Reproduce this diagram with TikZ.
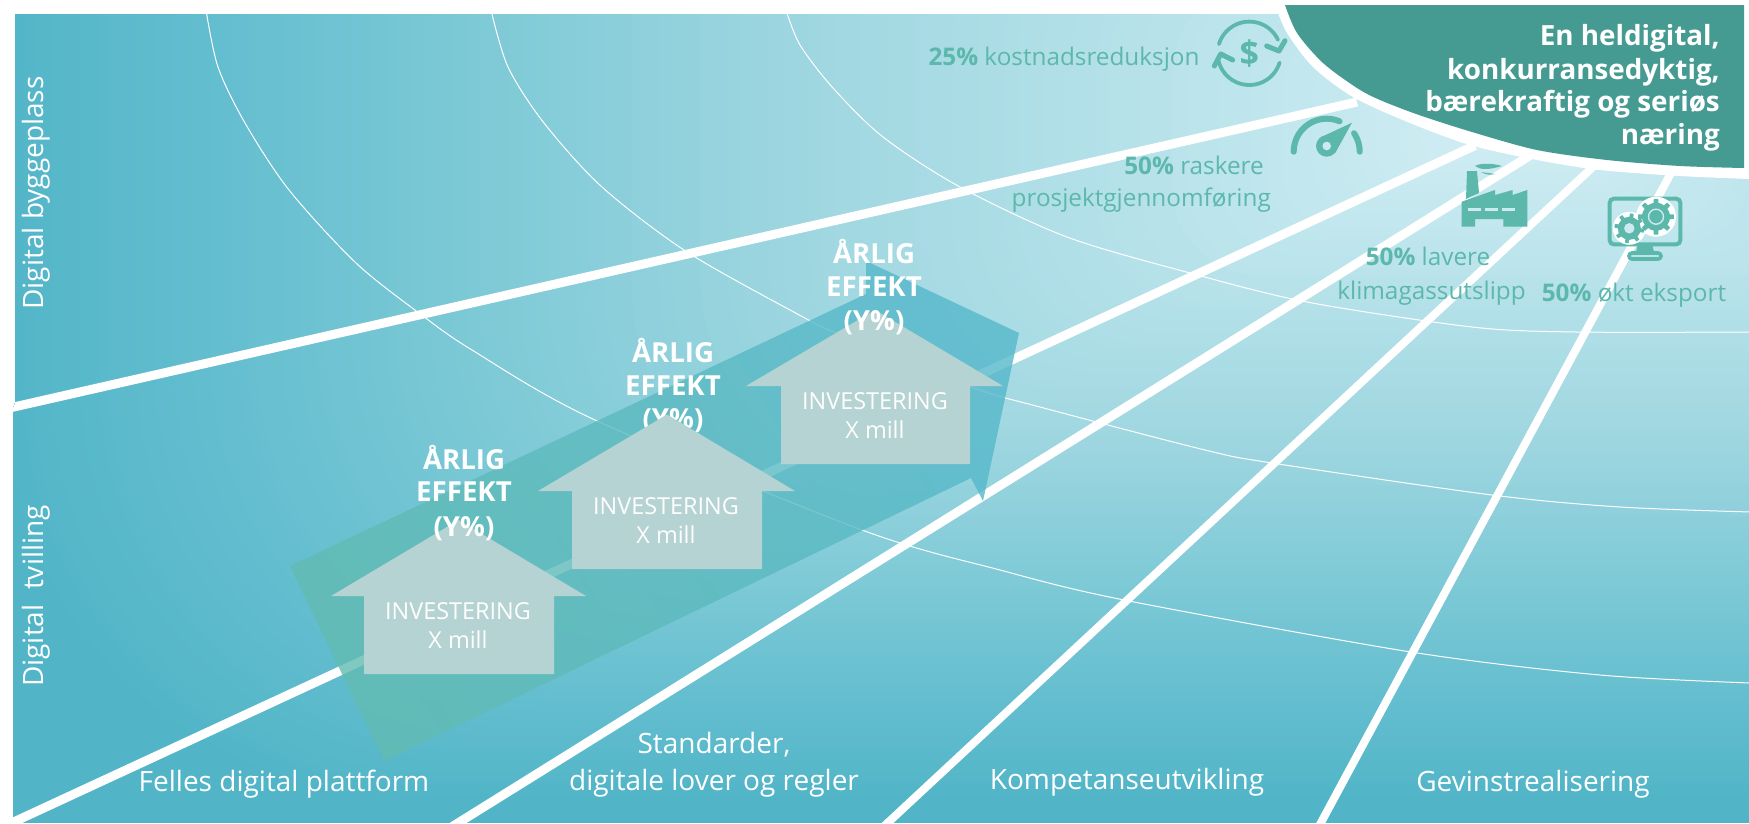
\documentclass[tikz,border=0pt]{standalone}
\usepackage{fontspec}
\setmainfont{Open Sans}
\definecolor{bgA}{HTML}{D2EEF4}
\definecolor{bgB}{HTML}{B5E1E9}
\definecolor{bgC}{HTML}{9DD6E0}
\definecolor{bgD}{HTML}{7AC8D5}
\definecolor{bgE}{HTML}{64BECF}
\definecolor{bgF}{HTML}{51B5C7}
\definecolor{boxc}{HTML}{459B91}
\definecolor{iconc}{HTML}{5BB8AB}
\definecolor{kpi}{HTML}{5CB8AD}
\definecolor{housec}{HTML}{B5D3D2}
\definecolor{polyA}{HTML}{62BBB2}
\definecolor{polyB}{HTML}{55B8CA}
\definecolor{holec}{HTML}{CDEAF0}
\tikzset{
 thick line/.style={white,line width=9pt},
 thin arc/.style={white,line width=1pt},
 house/.style={fill=housec},
 invest/.style={text=white,font=\fontsize{23.4}{25}\selectfont,inner sep=0pt},
 effect/.style={text=white,font=\bfseries\fontsize{27.6}{30}\selectfont,inner sep=0pt},
 axislabel/.style={text=white,font=\fontsize{28}{29}\selectfont,inner sep=0pt},
 kpitext/.style={text=kpi,font=\fontsize{24.3}{26}\selectfont,inner sep=0pt},
 titletext/.style={text=white,font=\bfseries\fontsize{27.8}{32}\selectfont,inner sep=0pt,anchor=east},
}
% nested rounded rectangles: band of the background from t=#2 (colour #4) in to t=#1 (colour #3)
\newcommand{\bgband}[4]{%
 \foreach \kk in {0,...,24}{
  \pgfmathsetmacro{\bgt}{#2-(#2-#1)*\kk/25}
  \pgfmathsetmacro{\bgp}{100*\kk/25}
  \pgfmathsetmacro{\bgw}{1560*\bgt}
  \pgfmathsetmacro{\bgh}{693*\bgt}
  \pgfmathsetmacro{\bgr}{0.6*\bgh}
  \fill[#3!\bgp!#4,rounded corners=\bgr pt] ({1500-\bgw},{130-\bgh}) rectangle ({1500+\bgw},{130+\bgh});
 }
}
\newcommand{\gearshape}[6]{% cx cy outer body teeth rot
 \foreach \ga in {1,...,#5}{
  \fill[iconc] ({#1+(#4-1)*cos(#6+\ga*360/#5-11)},{#2+(#4-1)*sin(#6+\ga*360/#5-11)})
    -- ({#1+#3*cos(#6+\ga*360/#5-7)},{#2+#3*sin(#6+\ga*360/#5-7)})
    -- ({#1+#3*cos(#6+\ga*360/#5+7)},{#2+#3*sin(#6+\ga*360/#5+7)})
    -- ({#1+(#4-1)*cos(#6+\ga*360/#5+11)},{#2+(#4-1)*sin(#6+\ga*360/#5+11)}) -- cycle;
 }
 \fill[iconc] (#1,#2) circle (#4);
}
\begin{document}
\begin{tikzpicture}[x=1pt,y=-1pt]
\useasboundingbox (0,0) rectangle (1749,823);
\fill[white] (0,0) rectangle (1749,823);
% background
\begin{scope}
\clip (15,14) -- (15,403) -- (13,408) -- (13,823) -- (1749,823) -- (1749,14) -- cycle;
\fill[bgF] (0,0) rectangle (1749,823);
\bgband{0.82}{0.97}{bgE}{bgF}
\bgband{0.68}{0.82}{bgD}{bgE}
\bgband{0.46}{0.68}{bgC}{bgD}
\bgband{0.25}{0.46}{bgB}{bgC}
\bgband{0.0}{0.25}{bgA}{bgB}
% thin arcs
\draw[thin arc] plot[smooth] coordinates {(206,10) (218,67) (245,123) (289,190) (356,263) (419,313) (472,350) (595,420) (862,530) (1000,570) (1124,600) (1411,652) (1600,675) (1751,683)};
\draw[thin arc] plot[smooth] coordinates {(491,10) (508,67) (544,123) (602,187) (687,252) (803,317) (834,332) (971,387) (1040,407) (1205,450) (1272,463) (1492,495) (1620,507) (1751,512)};
\draw[thin arc] plot[smooth] coordinates {(786,10) (800,45) (833,88) (883,137) (960,187) (1067,237) (1190,273) (1307,302) (1472,327) (1576,332) (1751,332)};
% thick lines
\coordinate (l1a) at (5,409);\coordinate (l1b) at (1357,102);
\coordinate (l2a) at (5,826);\coordinate (l2b) at (1475,145.5);
\coordinate (l3a) at (450,828);\coordinate (l3b) at (1530,155.5);
\coordinate (l4a) at (880,830);\coordinate (l4b) at (1595,165);
\coordinate (l5a) at (1317,830);\coordinate (l5b) at (1671,173);
\draw[thick line] (l1a) -- (l1b);
\draw[thick line] (l2a) -- (l2b);
\draw[thick line] (l3a) -- (l3b);
\draw[thick line,line width=8pt] (l4a) -- (l4b);
\draw[thick line,line width=8pt] (l5a) -- (l5b);
\end{scope}
% factory icon
\fill[iconc] (1461.7,201.7) -- (1495,190) -- (1495,195) -- (1512.7,190) -- (1512.7,195) -- (1527.3,190) -- (1527.3,226.7) -- (1503.3,226.7) -- (1503.3,219) -- (1475,219) -- (1475,226.7) -- (1461.7,226.7) -- cycle;
\fill[iconc] (1467,171) -- (1477,171) -- (1479,193) -- (1466,199) -- cycle;
\fill[iconc] (1475,166) .. controls (1480,163) and (1492,163) .. (1502,166) .. controls (1495,168) and (1490,169) .. (1485,169) .. controls (1481,169) and (1478,168) .. (1475,166) -- cycle;
\fill[iconc] (1481,172) .. controls (1486,173) and (1490,173) .. (1495,174) .. controls (1491,175) and (1486,175) .. (1481,172) -- cycle;
\fill[holec] (1468.3,208) rectangle (1481,211);
\fill[holec] (1485,208) rectangle (1497.7,211);
\fill[holec] (1502.3,208) rectangle (1515,211);
% corner: white band and dark title shape
\fill[white] (1277,0) -- plot[smooth] coordinates {(1277,10) (1287,33) (1313,67) (1353,97) (1410,123) (1470,145) (1537,160) (1600,170) (1680,176) (1749,179)} -- (1749,0) -- cycle;
\fill[boxc] (1285,5) -- plot[smooth] coordinates {(1285,5) (1297,33) (1323,63) (1357,88) (1380,100) (1419,115) (1472,132) (1537,150) (1607,160) (1680,166) (1744,168)} -- (1744,5) -- cycle;
% dollar icon
\draw[iconc,line width=3.8pt,line cap=round] plot[smooth,domain=163:25,samples=24] ({1249.3+31.7*cos(\x)},{53.3-31.7*sin(\x)});
\draw[iconc,line width=3.8pt,line cap=round] plot[smooth,domain=-17:-167,samples=24] ({1249.3+31.7*cos(\x)},{53.3-31.7*sin(\x)});
\draw[iconc,line width=5pt,line cap=round,line join=round] (1266.7,46) -- (1279,51) -- (1285,40.7);
\draw[iconc,line width=5pt,line cap=round,line join=round] (1232.7,60) -- (1220.7,54) -- (1214.3,66);
\node[text=iconc,font=\bfseries\fontsize{34}{34}\selectfont,inner sep=0pt] (dollar) at (1249.3,53.3) {\$};
% gauge icon
\draw[iconc,line width=6pt,line cap=round] plot[smooth,domain=180:67,samples=20] ({1326.7+33*cos(\x)},{151.7-33*sin(\x)});
\draw[iconc,line width=6pt,line cap=round] plot[smooth,domain=34:0,samples=8] ({1326.7+33*cos(\x)},{151.7-33*sin(\x)});
\fill[iconc] (1320.7,137.3) -- (1352,122.7) -- (1335,153.3) -- cycle;
\fill[iconc] (1326.7,146) circle (10.7pt);
\fill[holec] (1326.7,146) circle (4.3pt);
% monitor icon
\draw[iconc,line width=4pt,rounded corners=4pt] (1609.7,198.7) rectangle (1680.3,244.3);
\fill[iconc] (1638,244) -- (1652,244) -- (1654,252) -- (1636,252) -- cycle;
\draw[iconc,line width=3.6pt,rounded corners=3pt] (1629,253) rectangle (1661,259);
\fill[white] (1656,216.7) circle (20pt);
\fill[white] (1629.3,228.3) circle (16.5pt);
\gearshape{1656}{216.7}{18}{14}{8}{0}
\gearshape{1629.3}{228.3}{15}{11.5}{8}{10}
\draw[holec,line width=1.4pt] (1656,216.7) circle (7.5pt);
\fill[holec] (1629.3,228.3) circle (5.2pt);
% big translucent arrow
\shade[top color=polyB,bottom color=polyA,shading angle=-60,fill opacity=.8]
 (290,566) -- (866,294) -- (866,261) -- (1019,333) -- (983,501) -- (971,478) -- (384,761) -- cycle;
% effect text of house 2 lies under its house
\node[effect] (e2a) at (673,350) {ÅRLIG};
\node[effect] (e2b) at (673,386) {EFFEKT};
\node[effect] (e2c) at (673,421) {(Y\%)};
% houses
\fill[house] (458.6,520) -- (586,596) -- (554,596) -- (554,674) -- (364,674) -- (364,596) -- (331,596) -- cycle;
\fill[house] (667,414.5) -- (795,491) -- (762,491) -- (762,569) -- (572,569) -- (572,491) -- (538,491) -- cycle;
\fill[house] (875,310) -- (1003,386) -- (970,386) -- (970,464) -- (781,464) -- (781,386) -- (746,386) -- cycle;
\node[effect] (e1a) at (464,457) {ÅRLIG};
\node[effect] (e1b) at (464,492) {EFFEKT};
\node[effect] (e1c) at (464,528.5) {(Y\%)};
\node[effect] (e3a) at (874,251) {ÅRLIG};
\node[effect] (e3b) at (874,287) {EFFEKT};
\node[effect] (e3c) at (874,323) {(Y\%)};
\node[invest] (i1a) at (458,611) {INVESTERING};
\node[invest] (i1b) at (458,640) {X mill};
\node[invest] (i2a) at (666,506) {INVESTERING};
\node[invest] (i2b) at (666,535) {X mill};
\node[invest] (i3a) at (875,401) {INVESTERING};
\node[invest] (i3b) at (875,430) {X mill};
% axis labels
\node[axislabel] (fp) at (284,784) {Felles digital plattform};
\node[axislabel] (st) at (714,745) {Standarder,};
\node[axislabel] (dl) at (714,783) {digitale lover og regler};
\node[axislabel] (ku) at (1127,782) {Kompetanseutvikling};
\node[axislabel] (gr) at (1533,784) {Gevinstrealisering};
\node[axislabel,rotate=90] (db) at (36,193) {Digital byggeplass};
\node[axislabel,rotate=90] (dt) at (36,596) {Digital\ \ tvilling};
% kpi texts
\node[kpitext] (k1) at (1064,59) {\textbf{25\%} kostnadsreduksjon};
\node[kpitext,anchor=east] (k2a) at (1264,165) {\textbf{50\%} raskere};
\node[kpitext,anchor=east] (k2b) at (1271,200) {prosjektgjennomføring};
\node[kpitext] (k3a) at (1428,256) {\textbf{50\%} lavere};
\node[kpitext] (k3b) at (1431.5,293) {klimagassutslipp};
\node[kpitext] (k4) at (1634,295) {\textbf{50\%} økt eksport};
% title
\node[titletext] (t1) at (1720,38) {En heldigital,};
\node[titletext] (t2) at (1720,72) {konkurransedyktig,};
\node[titletext] (t3) at (1720,104) {bærekraftig og seriøs};
\node[titletext] (t4) at (1720,137) {næring};
\end{tikzpicture}
\end{document}
